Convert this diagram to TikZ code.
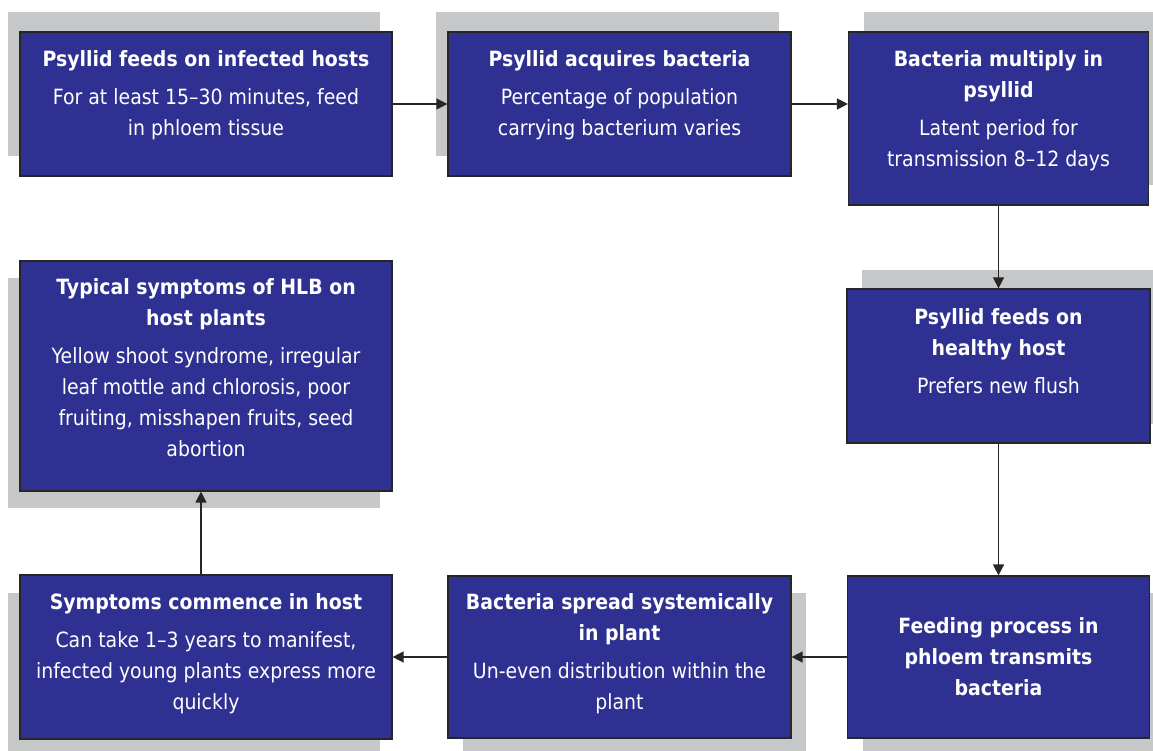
\documentclass[tikz,border=0pt]{standalone}
\usepackage{fontspec}
\setmainfont[FakeStretch=0.9]{DejaVu Sans}
\usetikzlibrary{arrows.meta,shadows}

\definecolor{hlbblue}{RGB}{46,49,146}
\definecolor{hlbgray}{RGB}{198,199,201}

\newcommand{\lift}[1]{\rule[-#1]{0pt}{#1}}

\begin{document}
\begin{tikzpicture}[x=1pt, y=-1pt,
		stage/.style={draw=black!85, line width=1.2pt, fill=hlbblue, text=white,
			align=center, inner sep=0pt, font=\fontsize{21}{31}\selectfont},
		cast/.style 2 args={drop shadow={shadow xshift=#1, shadow yshift=#2,
			fill=hlbgray, opacity=1}},
		flow/.style={-{Triangle[length=11pt,width=11pt]}, line width=1.4pt, draw=black!85}]
		\clip (0,0) rectangle (1153,751);

		% Top row
		\node[stage, cast={-12pt}{20pt}, minimum width=372pt, minimum height=144pt] (infected) at (206,104)
			{\textbf{Psyllid feeds on infected hosts}\\[7pt]For at least 15--30 minutes, feed\\in phloem tissue\lift{21pt}};
		\node[stage, cast={-12pt}{20pt}, minimum width=343pt, minimum height=144pt] (acquire) at (619.5,104)
			{\textbf{Psyllid acquires bacteria}\\[7pt]Percentage of population\\carrying bacterium varies\lift{21pt}};
		\node[stage, cast={15pt}{20pt}, minimum width=300pt, minimum height=173pt] (multiply) at (998.5,118.5)
			{\textbf{Bacteria multiply in}\\\textbf{psyllid}\\[7pt]Latent period for\\transmission 8--12 days\lift{20pt}};

		% Right column
		\node[stage, cast={15pt}{19pt}, minimum width=303pt, minimum height=154pt] (healthy) at (998.5,366)
			{\textbf{Psyllid feeds on}\\\textbf{healthy host}\\[7pt]Prefers new flush\lift{30pt}};
		\node[stage, cast={15pt}{-17pt}, minimum width=302pt, minimum height=162pt] (transmit) at (998.5,657)
			{\textbf{Feeding process in}\\\textbf{phloem transmits}\\\textbf{bacteria}};

		% Bottom row and left column
		\node[stage, cast={15pt}{-17pt}, minimum width=343pt, minimum height=162pt] (spread) at (619.5,657)
			{\textbf{Bacteria spread systemically}\\\textbf{in plant}\\[7pt]Un-even distribution within the\\plant\lift{10pt}};
		\node[stage, cast={-12pt}{-18pt}, minimum width=372pt, minimum height=164pt] (commence) at (206,657)
			{\textbf{Symptoms commence in host}\\[7pt]Can take 1--3 years to manifest,\\infected young plants express more\\quickly\lift{10pt}};
		\node[stage, cast={-12pt}{-17pt}, minimum width=372pt, minimum height=230pt] (symptoms) at (206,376)
			{\textbf{Typical symptoms of HLB on}\\\textbf{host plants}\\[7pt]Yellow shoot syndrome, irregular\\leaf mottle and chlorosis, poor\\fruiting, misshapen fruits, seed\\abortion\lift{16pt}};

		% Edges
		\draw[flow] (infected) -- (acquire);
		\draw[flow] (acquire.east) -- (acquire.east -| multiply.west);
		\draw[flow] (multiply) -- (healthy);
		\draw[flow] (healthy) -- (transmit);
		\draw[flow] (transmit) -- (spread);
		\draw[flow] (spread) -- (commence);
		\draw[flow] ([xshift=-5pt]commence.north) -- ([xshift=-5pt]symptoms.south);
	\end{tikzpicture}
\end{document}
